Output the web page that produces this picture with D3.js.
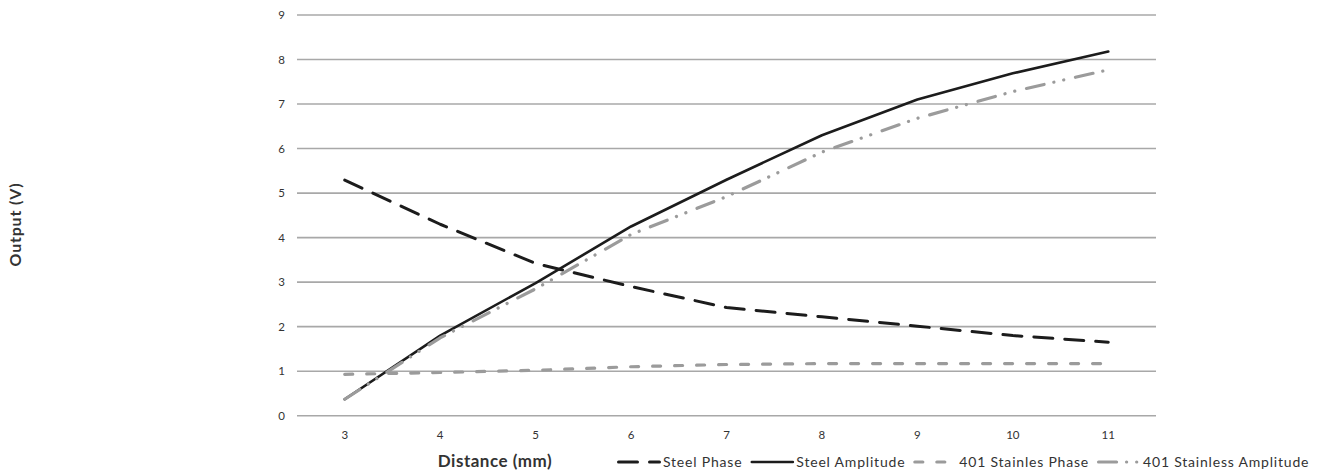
<!DOCTYPE html>
<html>
<head>
<meta charset="utf-8">
<script src="https://cdn.jsdelivr.net/npm/d3@7"></script>
<style>
  html, body { margin: 0; padding: 0; background: #fff; }
  svg { display: block; }
  text { font-family: Lato, "Open Sans", sans-serif; fill: #333; }
</style>
</head>
<body>
<svg id="chart" width="1329" height="472"></svg>
<script>
// ---- data ----
const distances = ["3", "4", "5", "6", "7", "8", "9", "10", "11"];
const yTicks = [0, 1, 2, 3, 4, 5, 6, 7, 8, 9];
const steelPhase = [5.29, 4.3, 3.42, 2.9, 2.43, 2.22, 2.01, 1.8, 1.65];
const steelAmplitude = [0.37, 1.8, 2.98, 4.25, 5.3, 6.3, 7.1, 7.69, 8.18];
const stainlessPhase = [0.93, 0.97, 1.02, 1.1, 1.15, 1.17, 1.17, 1.17, 1.17];
const stainlessAmplitude = [0.37, 1.75, 2.85, 4.07, 4.92, 5.92, 6.68, 7.28, 7.77];
const seriesNames = ["Steel Phase", "Steel Amplitude", "401 Stainles Phase", "401 Stainless Amplitude"];

// ---- styles ----
const styles = [
  { color: "#1c1c1c", width: 3, dash: "19,12", cap: "round" },
  { color: "#1c1c1c", width: 2.6, dash: null, cap: "round" },
  { color: "#9b9b9b", width: 3.2, dash: "8,14", cap: "round" },
  { color: "#9b9b9b", width: 3.2, dash: "18,10,0.1,10,0.1,12", cap: "round" }
];
const seriesValues = [steelPhase, steelAmplitude, stainlessPhase, stainlessAmplitude];

const svg = d3.select("#chart");
const plot = { left: 297, right: 1156, top: 15, bottom: 415.7 };

const x = d3.scaleBand().domain(distances).range([plot.left, plot.right]).padding(0);
const y = d3.scaleLinear().domain([0, 9]).range([plot.bottom, plot.top]);
const cx = d => x(d) + x.bandwidth() / 2;

// gridlines
svg.append("g").selectAll("line").data(yTicks).join("line")
  .attr("x1", plot.left).attr("x2", plot.right)
  .attr("y1", d => y(d)).attr("y2", d => y(d))
  .attr("stroke", "#a8a8a8").attr("stroke-width", 1.6);

// y axis labels
const yAxis = d3.axisLeft(y).tickValues(yTicks).tickSize(0).tickPadding(0).tickFormat(d3.format("d"));
const gy = svg.append("g").attr("transform", `translate(${plot.left - 12},0)`).call(yAxis);
gy.select(".domain").remove();
gy.selectAll("text").style("font-family", "Lato, sans-serif").style("font-size", "11.5px").attr("fill", "#333");

// x axis labels
const xAxis = d3.axisBottom(x).tickSize(0).tickPadding(0);
const gx = svg.append("g").attr("transform", `translate(0,${plot.bottom + 15})`).call(xAxis);
gx.select(".domain").remove();
gx.selectAll("text").style("font-family", "Lato, sans-serif").style("font-size", "11.5px").attr("fill", "#333");

// lines
const line = d3.line().x((d, i) => cx(distances[i])).y(d => y(d));
seriesValues.forEach((vals, k) => {
  const s = styles[k];
  svg.append("path").datum(vals)
    .attr("d", line)
    .attr("fill", "none")
    .attr("stroke", s.color)
    .attr("stroke-width", s.width)
    .attr("stroke-linecap", s.cap)
    .attr("stroke-linejoin", "round")
    .attr("stroke-dasharray", s.dash);
});

// axis titles
svg.append("text")
  .attr("transform", `translate(21,224.5) rotate(-90)`)
  .attr("text-anchor", "middle")
  .style("font-size", "16px").style("font-weight", "bold").style("letter-spacing", "0.8px")
  .attr("fill", "#222")
  .text("Output (V)");

svg.append("text")
  .attr("x", 495).attr("y", 467)
  .attr("text-anchor", "middle")
  .style("font-size", "17px").style("font-weight", "bold").style("letter-spacing", "0.5px")
  .attr("fill", "#222")
  .text("Distance (mm)");

// legend
const legend = svg.append("g");
let lx = 617;
const ly = 462;
const sampleLen = 44;
seriesNames.forEach((name, k) => {
  const s = styles[k];
  legend.append("line")
    .attr("x1", lx + 1.5).attr("x2", lx + sampleLen - 1.5)
    .attr("y1", ly).attr("y2", ly)
    .attr("stroke", s.color).attr("stroke-width", s.width)
    .attr("stroke-linecap", s.cap)
    .attr("stroke-dasharray", s.dash);
  const t = legend.append("text")
    .attr("x", lx + sampleLen + 2).attr("y", ly + 5)
    .style("font-size", "14px").style("letter-spacing", "0.8px")
    .attr("fill", "#333")
    .text(name);
  lx += sampleLen + 2 + t.node().getComputedTextLength() + 8;
});
</script>
</body>
</html>
